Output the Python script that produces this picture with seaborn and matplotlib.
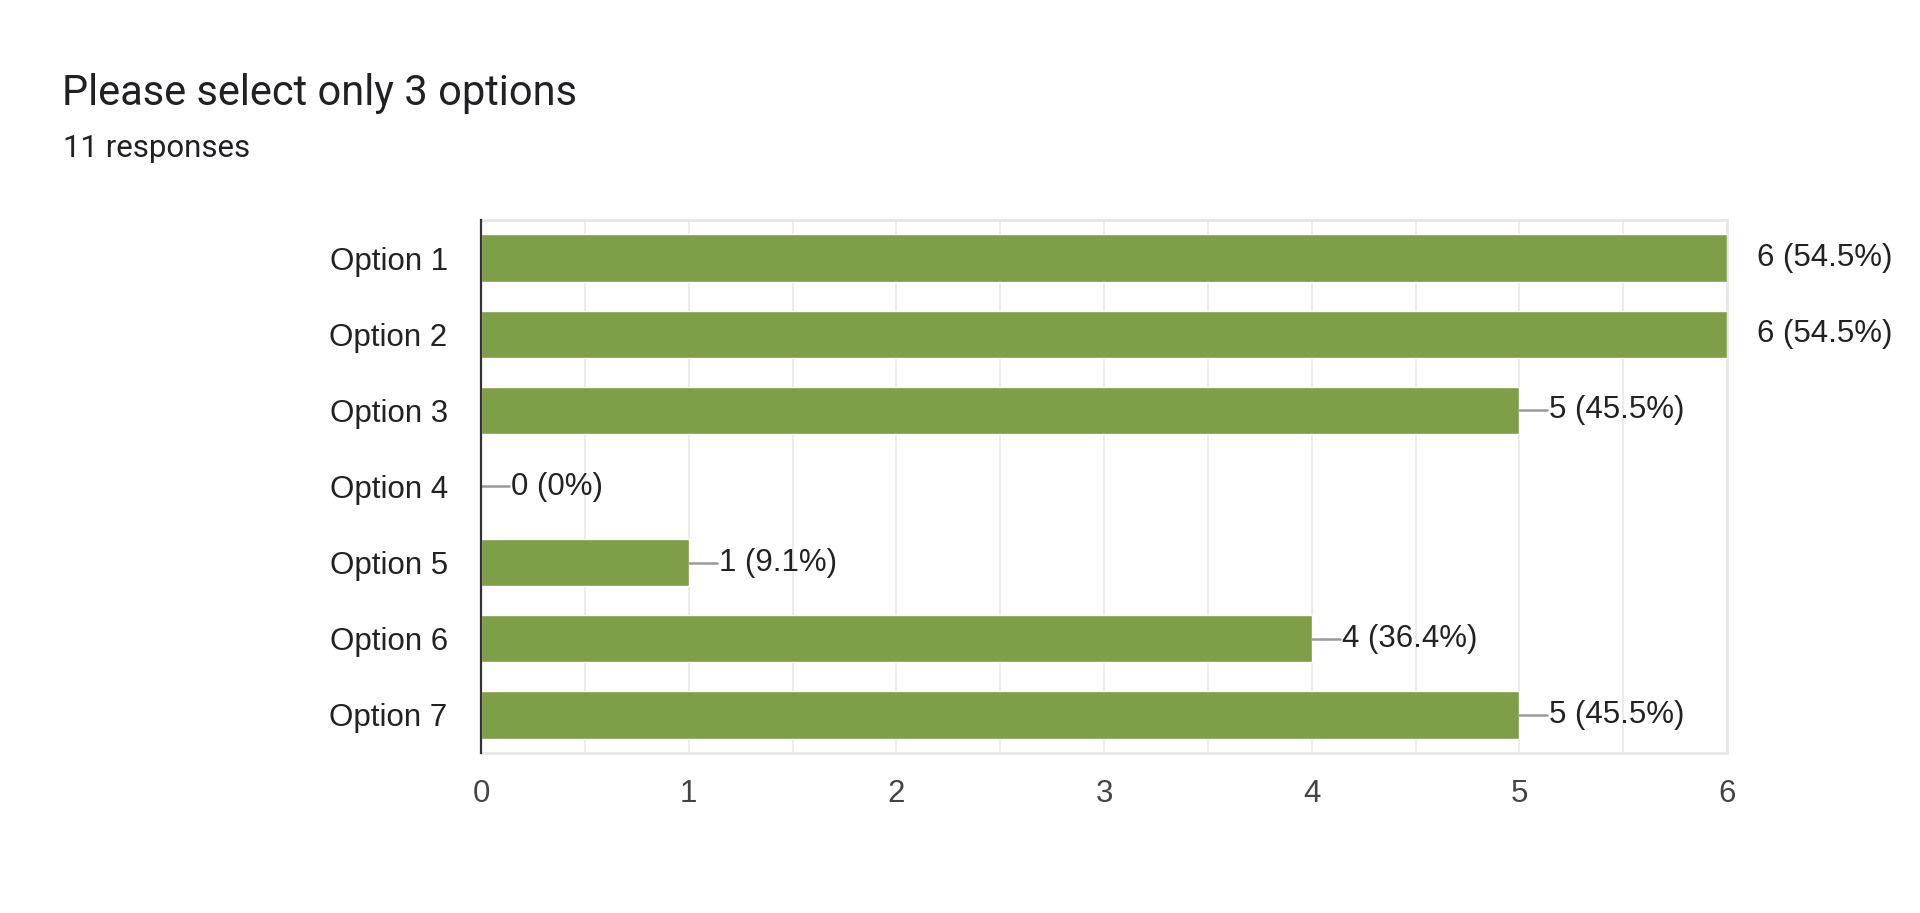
import numpy as np
import pandas as pd
import matplotlib
matplotlib.use("Agg")
import matplotlib.pyplot as plt
import seaborn as sns

sns.set_theme(style="white")
plt.rcParams['font.family'] = ['Liberation Sans', 'DejaVu Sans']

title = "Please select only 3 options"
responses = 11
options = ["Option 1", "Option 2", "Option 3", "Option 4", "Option 5", "Option 6", "Option 7"]
counts = [6, 6, 5, 0, 1, 4, 5]
x_ticks = [0, 1, 2, 3, 4, 5, 6]

bar_color = "#7e9f47"
grid_color = "#ebebeb"

def fmt_label(c, total):
    p = "%.1f" % (100.0 * c / total)
    if p.endswith(".0"):
        p = p[:-2]
    return "%d (%s%%)" % (c, p)

df = pd.DataFrame({"option": options, "count": counts})

fig = plt.figure(figsize=(19.2, 9.13), dpi=100)
ax = fig.add_axes([481/1920, 1-753/913, (1727-481)/1920, (753-220)/913])

sns.barplot(data=df, x="count", y="option", orient="h", color=bar_color,
            saturation=1, width=0.62, ax=ax, zorder=3)

ax.set_xlim(x_ticks[0], x_ticks[-1])
ax.set_ylim(len(options) - 0.5, -0.5)
ax.set_xticks(x_ticks)
ax.set_xticks(np.arange(x_ticks[0], x_ticks[-1], 0.5), minor=True)
ax.grid(axis="x", which="both", color=grid_color, lw=1.4, zorder=0)
ax.set_axisbelow(True)
ax.set_xlabel("")
ax.set_ylabel("")
ax.tick_params(axis="both", which="both", length=0)
ax.tick_params(axis="y", labelsize=22.5, colors="#222222", pad=24)
ax.tick_params(axis="x", labelsize=22.5, colors="#444444", pad=19)

for side in ["top", "right", "bottom"]:
    ax.spines[side].set_color("#e6e6e6")
    ax.spines[side].set_linewidth(2)
ax.spines["left"].set_color("#333333")
ax.spines["left"].set_linewidth(1.6)
ax.spines["left"].set_zorder(5)

# stems + value labels
stem = 0.135
for i, c in enumerate(counts):
    ax.plot([c, c + stem], [i, i], color="#999999", lw=1.8, zorder=4)
    ax.annotate(fmt_label(c, responses), xy=(c, i), xytext=(30, 0),
                textcoords="offset pixels", va="center", ha="left",
                fontsize=22.5, color="#222222", annotation_clip=False)

fig.text(62/1920, 1-105/913, title, fontsize=30, color="#202124",
         family=["Roboto", "DejaVu Sans"], va="baseline", ha="left")
fig.text(63/1920, 1-157/913, "%d responses" % responses, fontsize=22.5,
         color="#202124", family=["Roboto", "DejaVu Sans"], va="baseline", ha="left")

fig.savefig("out.png", dpi=100, facecolor="white")
